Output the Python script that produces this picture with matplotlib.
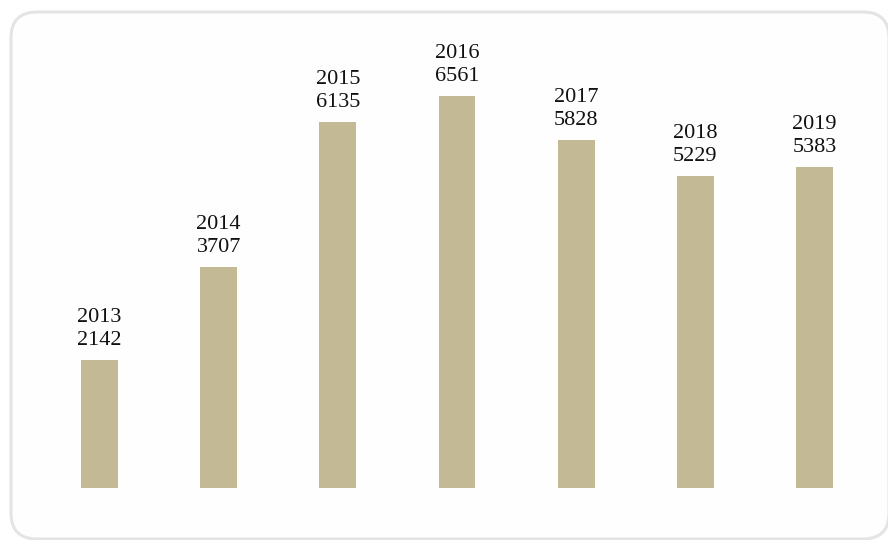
import matplotlib
matplotlib.use("Agg")
import matplotlib.pyplot as plt
from matplotlib.patches import FancyBboxPatch

years = ["2013", "2014", "2015", "2016", "2017", "2018", "2019"]
counts = [2142, 3707, 6135, 6561, 5828, 5229, 5383]

BAR_COLOR = "#c3ba95"
FRAME_COLOR = "#e4e4e4"

plt.rcParams["font.family"] = ["Liberation Serif", "DejaVu Serif"]

fig = plt.figure(figsize=(8.88, 5.4), dpi=100)
fig.patch.set_facecolor("white")

# rounded card behind the chart, laid out in pixel units
ax_bg = fig.add_axes([0, 0, 1, 1])
ax_bg.set_xlim(0, 888)
ax_bg.set_ylim(540, 0)
ax_bg.axis("off")
frame = FancyBboxPatch((11, 12), 878, 527, boxstyle="round,pad=0,rounding_size=26",
                       facecolor="#fefefe", edgecolor=FRAME_COLOR, linewidth=2.2,
                       clip_on=False)
ax_bg.add_patch(frame)

ax = fig.add_axes([40 / 888, 52 / 540, 834 / 888, 418 / 540])
ax.set_xlim(-0.5, 6.5)
ax.set_ylim(0, 7000)
ax.axis("off")

xs = range(len(years))
ax.bar(xs, counts, width=0.31, color=BAR_COLOR)

# year on top, value below it, both above the bar
for x, year, val in zip(xs, years, counts):
    ax.annotate(str(val), (x, val), xytext=(0, 10.8), textcoords="offset points",
                ha="center", va="baseline", fontsize=16, color="#111111")
    ax.annotate(year, (x, val), xytext=(0, 27.4), textcoords="offset points",
                ha="center", va="baseline", fontsize=16, color="#111111")

fig.savefig("out.png", dpi=100)
